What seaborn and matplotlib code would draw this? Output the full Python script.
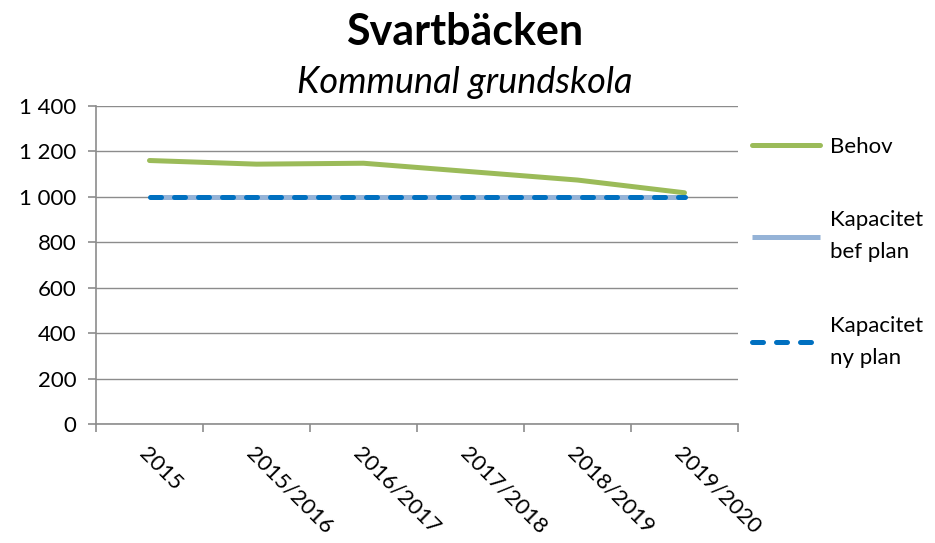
import numpy as np
import pandas as pd
import matplotlib
matplotlib.use("Agg")
import matplotlib.pyplot as plt
import seaborn as sns
from matplotlib.ticker import FuncFormatter, FixedLocator

# Data
years = ["2015", "2015/2016", "2016/2017", "2017/2018", "2018/2019", "2019/2020"]
behov = [1160, 1144, 1148, 1111, 1074, 1018]
kapacitet_bef = [1000, 1000, 1000, 1000, 1000, 1000]
kapacitet_ny = [1000, 1000, 1000, 1000, 1000, 1000]

sns.set_theme(style="white")
plt.rcParams["font.family"] = ["Lato", "DejaVu Sans"]
plt.rcParams["text.color"] = "black"

fig = plt.figure(figsize=(9.35, 5.43), dpi=100)
ax = fig.add_axes([96 / 935, 1 - 424 / 543, (738 - 96) / 935, (424 - 106) / 543])

sns.lineplot(x=years, y=behov, ax=ax, color="#9BBB59", linewidth=3.6,
             label="Behov", solid_capstyle="round")
sns.lineplot(x=years, y=kapacitet_bef, ax=ax, color="#95B3D7", linewidth=3.6,
             label="Kapacitet\nbef plan", solid_capstyle="butt")
sns.lineplot(x=years, y=kapacitet_ny, ax=ax, color="#0070C0", linewidth=3.6,
             label="Kapacitet\nny plan", dashes=(2.2, 2.6), dash_capstyle="round")

ax.set_xlim(-0.5, 5.5)
ax.set_ylim(0, 1400)
ax.set_yticks(np.arange(0, 1401, 200))
ax.yaxis.set_major_formatter(FuncFormatter(lambda v, p: f"{int(v):,}".replace(",", " ")))
ax.yaxis.grid(True, color="#8c8c8c", linewidth=1.0)
ax.xaxis.grid(False)
ax.set_axisbelow(True)

for s in ["top", "right"]:
    ax.spines[s].set_visible(False)
for s in ["left", "bottom"]:
    ax.spines[s].set_color("#8c8c8c")
    ax.spines[s].set_linewidth(1.2)

ax.tick_params(axis="y", which="major", left=True, length=6, width=1.2, color="#8c8c8c",
               labelsize=16, labelcolor="black", pad=8)
ax.set_xticks(range(len(years)))
ax.set_xticklabels(years, rotation=-45, ha="left", va="top", rotation_mode="anchor")
ax.tick_params(axis="x", which="major", bottom=False, length=0, labelsize=16,
               labelcolor="black", pad=14)
ax.xaxis.set_minor_locator(FixedLocator(np.arange(-0.5, 5.6, 1)))
ax.tick_params(axis="x", which="minor", bottom=True, length=6, width=1.2, color="#8c8c8c")
ax.set_xlabel("")
ax.set_ylabel("")

fig.text(0.497, 1 - 32 / 543, "Svartbäcken", ha="center", va="center",
         fontsize=31, fontweight="bold")
fig.text(0.497, 1 - 82 / 543, "Kommunal grundskola", ha="center", va="center",
         fontsize=26, fontstyle="italic")

leg = ax.legend(loc="upper left", bbox_to_anchor=(1.008, 0.93), frameon=False,
                fontsize=16, handlelength=3.05, handletextpad=0.45, labelspacing=2.4,
                borderaxespad=0)
for t in leg.get_texts():
    t.set_linespacing(1.75)

fig.savefig("out.png", dpi=100)
